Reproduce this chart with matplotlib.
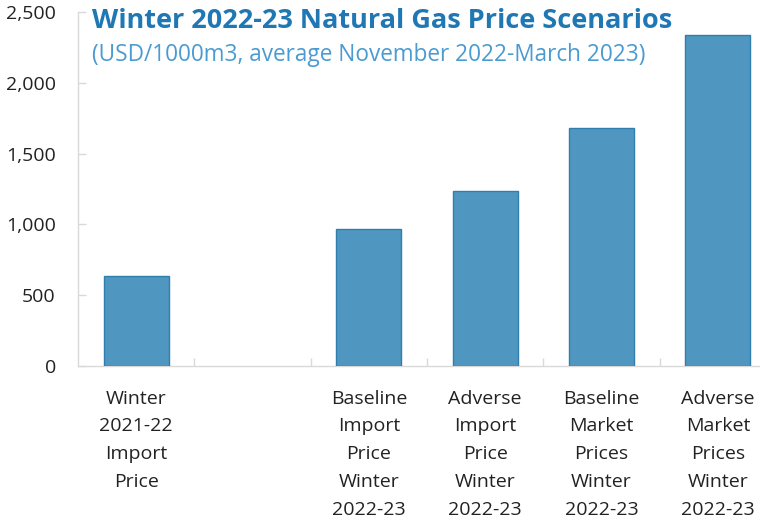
import matplotlib
matplotlib.use('Agg')
import matplotlib.pyplot as plt

plt.rcParams['font.family'] = ['Open Sans', 'DejaVu Sans']

# data
labels = [
    "Winter\n2021-22\nImport\nPrice",
    "",
    "Baseline\nImport\nPrice\nWinter\n2022-23",
    "Adverse\nImport\nPrice\nWinter\n2022-23",
    "Baseline\nMarket\nPrices\nWinter\n2022-23",
    "Adverse\nMarket\nPrices\nWinter\n2022-23",
]
values = [635, 0, 970, 1235, 1680, 2340]
yticks = [0, 500, 1000, 1500, 2000, 2500]

W, H = 760, 525
fig = plt.figure(figsize=(W / 100, H / 100), dpi=100)
# axes spans x 78..776 px, y 12..366 px (top-down)
ax = fig.add_axes([78 / W, (H - 366) / H, (776 - 78) / W, (366 - 12) / H])

bar_c = '#4F97C0'
edge_c = '#2F7FAE'
grey = '#D9D9D9'

x = list(range(len(values)))
shown = [v if v > 0 else float('nan') for v in values]
ax.bar(x, shown, width=0.56, color=bar_c, edgecolor=edge_c, linewidth=1.0, zorder=3)

ax.set_xlim(-0.5, len(values) - 0.5)
ax.set_ylim(0, 2500)
ax.set_yticks(yticks)
ax.set_yticklabels([f"{v:,}" for v in yticks], fontsize=14, color='#222222')

# category labels centred under bars, tick marks at slot boundaries
ax.set_xticks(x)
ax.set_xticklabels(labels, fontsize=14, color='#222222', linespacing=1.7, va='top')
ax.tick_params(axis='x', length=0, pad=17)
ax.set_xticks([i + 0.5 for i in range(len(values) - 1)], minor=True)
ax.tick_params(axis='x', which='minor', direction='in', length=6, color=grey, width=1)
ax.tick_params(axis='y', direction='in', length=6, color=grey, width=1, pad=16)

for s in ['top', 'right']:
    ax.spines[s].set_visible(False)
for s in ['left', 'bottom']:
    ax.spines[s].set_color(grey)
    ax.spines[s].set_linewidth(1.0)

fig.text(92 / W, 1 - 21 / H, "Winter 2022-23 Natural Gas Price Scenarios",
         fontsize=19.5, fontweight='bold', color='#1F78B4', va='center', ha='left')
fig.text(92 / W, 1 - 55 / H, "(USD/1000m3, average November 2022-March 2023)",
         fontsize=16.3, color='#4A9BD2', va='center', ha='left')

fig.savefig('out.png', dpi=100, facecolor='white')
